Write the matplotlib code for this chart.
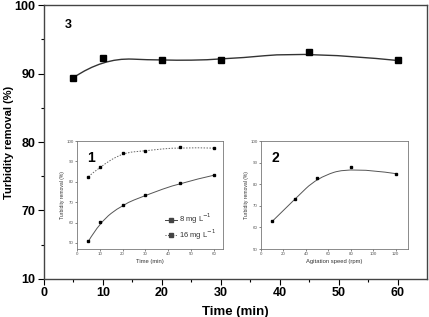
import matplotlib
matplotlib.use("Agg")
import matplotlib.pyplot as plt
import numpy as np
from matplotlib.path import Path
from matplotlib.patches import PathPatch

plt.rcParams['font.family'] = ['Liberation Sans', 'DejaVu Sans']

# Main chart (3): time series
main_time = [5, 10, 20, 30, 45, 60]
main_removal = [89.4, 92.3, 91.9, 92.0, 93.2, 91.9]
main_yticks = [60, 70, 80, 90, 100]
main_yticklabels = ['10', '70', '80', '90', '100']
main_xticks = [0, 10, 20, 30, 40, 50, 60]

# Inset 1: dose effect over time
ins1_time = [5, 10, 20, 30, 45, 60]
ins1_8mg = [50.8, 60.2, 68.8, 73.3, 79.4, 83.2]
ins1_16mg = [82.5, 87.3, 94.2, 95.2, 97.0, 96.5]
ins1_labels = ['8 mg L$^{-1}$', '16 mg L$^{-1}$']

# Inset 2: agitation speed
ins2_speed = [10, 30, 50, 80, 120]
ins2_removal = [62.8, 73.0, 83.0, 88.0, 84.9]


def bspline_path(x, y):
    pts = np.column_stack([x, y]).astype(float)
    verts = [pts[0]]
    codes = [Path.MOVETO]
    n = len(pts)
    for i in range(1, n - 1):
        end = pts[i + 1] if i == n - 2 else (pts[i] + pts[i + 1]) / 2
        verts += [pts[i], end]
        codes += [Path.CURVE3, Path.CURVE3]
    return Path(verts, codes)


def smooth_line(ax, x, y, **kw):
    p = PathPatch(bspline_path(x, y), fill=False, **kw)
    ax.add_patch(p)
    return p


fig = plt.figure(figsize=(4.29, 3.17), dpi=100)

ax = fig.add_axes([0.1026, 0.1199, 0.8927, 0.8643])
smooth_line(ax, main_time, main_removal, edgecolor='#333333', lw=1.0, zorder=2)
ax.plot(main_time, main_removal, 's', color='black', ms=5, zorder=3)
ax.set_xlim(0, 65)
ax.set_ylim(60, 100)
ax.set_xticks(main_xticks)
ax.set_xticks(np.arange(5, 65, 10), minor=True)
ax.set_yticks(main_yticks)
ax.set_yticklabels(main_yticklabels)
ax.set_yticks(np.arange(65, 100, 10), minor=True)
ax.tick_params(direction='out', length=4, width=0.8, labelsize=9, pad=2)
ax.tick_params(which='minor', direction='out', length=2.5, width=0.8)
for lbl in ax.get_xticklabels() + ax.get_yticklabels():
    lbl.set_fontweight('bold')
for s in ax.spines.values():
    s.set_color('#444444')
    s.set_linewidth(1.0)
ax.set_xlabel('Time (min)', fontsize=9.5, fontweight='bold', labelpad=5)
ax.set_ylabel('Turbidity removal (%)', fontsize=8, fontweight='bold')
ax.yaxis.set_label_coords(-0.078, 0.5)
ax.text(0.055, 0.915, '3', transform=ax.transAxes, fontsize=9, fontweight='bold')

# Inset 1
a1 = fig.add_axes([0.1795, 0.2145, 0.3403, 0.3407])
smooth_line(a1, ins1_time, ins1_8mg, edgecolor='#555555', lw=0.7)
smooth_line(a1, ins1_time, ins1_16mg, edgecolor='#666666', lw=0.7, linestyle=(0, (1.5, 1.5)))
a1.plot(ins1_time, ins1_8mg, 's', color='black', ms=2)
a1.plot(ins1_time, ins1_16mg, 's', color='black', ms=2)
h1, = a1.plot([], [], '-s', color='#444444', ms=2.5, lw=0.7, label=ins1_labels[0])
h2, = a1.plot([], [], ':s', color='#444444', ms=2.5, lw=0.7, label=ins1_labels[1])
a1.set_xlim(0, 64)
a1.set_ylim(47, 100)
a1.set_xticks(range(0, 61, 10))
a1.set_yticks(range(50, 101, 10))
a1.tick_params(direction='out', length=1.5, width=0.5, labelsize=3.2, pad=1, colors='#555555')
for s in a1.spines.values():
    s.set_color('#777777')
    s.set_linewidth(0.6)
a1.set_xlabel('Time (min)', fontsize=4.2, labelpad=2, color='#333333')
a1.set_ylabel('Turbidity removal (%)', fontsize=3.6, labelpad=1, color='#333333')
a1.text(0.07, 0.81, '1', transform=a1.transAxes, fontsize=10, fontweight='bold')
a1.legend(handles=[h1, h2], loc='lower right', fontsize=5.5, frameon=False,
          handlelength=1.6, handletextpad=0.3, labelspacing=0.2,
          borderaxespad=0.5, labelcolor='#333333')

# Inset 2
a2 = fig.add_axes([0.6084, 0.2145, 0.3427, 0.3407])
smooth_line(a2, ins2_speed, ins2_removal, edgecolor='#555555', lw=0.7)
a2.plot(ins2_speed, ins2_removal, 's', color='black', ms=2)
a2.set_xlim(0, 131)
a2.set_ylim(50, 100)
a2.set_xticks(range(0, 121, 20))
a2.set_yticks(range(50, 101, 10))
a2.tick_params(direction='out', length=1.5, width=0.5, labelsize=3.2, pad=1, colors='#555555')
for s in a2.spines.values():
    s.set_color('#777777')
    s.set_linewidth(0.6)
a2.set_xlabel('Agitation speed (rpm)', fontsize=4.2, labelpad=2, color='#333333')
a2.set_ylabel('Turbidity removal (%)', fontsize=3.6, labelpad=1, color='#333333')
a2.text(0.07, 0.81, '2', transform=a2.transAxes, fontsize=10, fontweight='bold')

fig.savefig('out.png', dpi=100)
